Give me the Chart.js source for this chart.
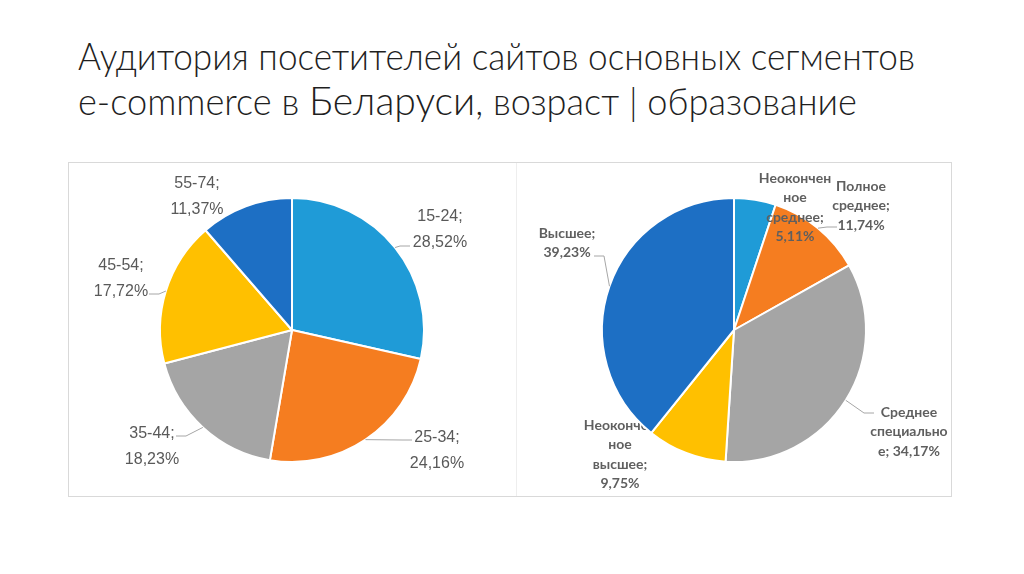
<!DOCTYPE html>
<html>
<head>
<meta charset="utf-8">
<script src="https://cdn.jsdelivr.net/npm/chart.js@4.4.1/dist/chart.umd.min.js"></script>
<style>
  html, body { margin: 0; padding: 0; background: #ffffff; }
  body { width: 1024px; height: 574px; position: relative; overflow: hidden; }
  .title-line {
    position: absolute; left: 78px; white-space: nowrap;
    font-family: Lato, "Open Sans", "Noto Sans", sans-serif; font-weight: 300;
    font-size: 37px; line-height: 45px; color: #1f1f1f;
    transform-origin: 0 0;
  }
  .title-line .big { font-size: 40px; }
  #box { position: absolute; left: 68px; top: 162px; width: 882px; height: 333px; border: 1px solid #d9d9d9; }
  #divider { position: absolute; left: 516px; top: 163px; width: 1px; height: 333px; background: #eeeeee; }
  canvas { position: absolute; }
</style>
</head>
<body>
<div class="title-line" id="t1" style="top:33px">Аудитория посетителей сайтов основных сегментов</div>
<div class="title-line" id="t2" style="top:78px">e-commerce в <span class="big">Беларуси</span>, возраст | образование</div>
<div id="box"></div>
<div id="divider"></div>
<canvas id="ageChart" width="448" height="334" style="left:68px;top:163px;width:448px;height:334px"></canvas>
<canvas id="eduChart" width="436" height="334" style="left:516px;top:163px;width:436px;height:334px"></canvas>
<script>
// ---- data ----
const ageCategories = ['15-24', '25-34', '35-44', '45-54', '55-74'];
const ageValues = [28.52, 24.16, 18.23, 17.72, 11.37];

const eduCategories = ['Неоконченное среднее', 'Полное среднее', 'Среднее специальное', 'Неоконченное высшее', 'Высшее'];
const eduValues = [5.11, 11.74, 34.17, 9.75, 39.23];
// wrapped label text as shown in the chart; {v} is replaced by the value
const eduLabelText = [
  ['Неокончен', 'ное', 'среднее;', '{v}'],
  ['Полное', 'среднее;', '{v}'],
  ['Среднее', 'специально', 'е; {v}'],
  ['Неокончен', 'ное', 'высшее;', '{v}'],
  ['Высшее;', '{v}']
];

const sliceColors = ['#1f9bd7', '#f57d20', '#a5a5a5', '#ffc000', '#1d6fc4'];

// fit title lines to the reference widths
function fitLine(id, w) {
  const el = document.getElementById(id);
  el.style.transform = 'none';
  const cw = el.getBoundingClientRect().width;
  if (cw > 0) el.style.transform = 'scaleX(' + (w / cw) + ')';
}

const fmt = v => v.toFixed(2).replace('.', ',') + '%';

const pieLabels = {
  id: 'pieLabels',
  beforeDatasetsDraw(chart, args, opts) { draw(chart, opts, true); },
  afterDatasetsDraw(chart, args, opts) { draw(chart, opts, false); }
};
function draw(chart, opts, behindPass) {
  const ctx = chart.ctx;
  const meta = chart.getDatasetMeta(0);
  meta.data.forEach((arc, i) => {
    const it = opts.items[i];
    if (!it || (!!it.behind) !== behindPass) return;
    const p = arc.getProps(['x', 'y', 'startAngle', 'endAngle', 'outerRadius'], true);
    const mid = (p.startAngle + p.endAngle) / 2;
    const lines = opts.lines(i);
    ctx.save();
    if (it.ax !== undefined) {
      const ex = p.x + Math.cos(mid) * p.outerRadius;
      const ey = p.y + Math.sin(mid) * p.outerRadius;
      const axp = p.x + it.ax, ayp = p.y + it.ay;
      const kx = axp + (it.ax > 0 ? -10 : 10);
      ctx.strokeStyle = opts.lineColor;
      ctx.lineWidth = 1;
      ctx.beginPath();
      ctx.moveTo(ex, ey);
      ctx.lineTo(kx, ayp);
      ctx.lineTo(axp, ayp);
      ctx.stroke();
    }
    ctx.fillStyle = opts.color;
    ctx.font = opts.font;
    ctx.textAlign = 'center';
    ctx.textBaseline = 'middle';
    lines.forEach((ln, k) => {
      ctx.fillText(ln, p.x + it.dx, p.y + it.dy + k * opts.lineHeight);
    });
    ctx.restore();
  });
}

function makePie(id, labels, values, labelOpts) {
  return new Chart(document.getElementById(id), {
    type: 'pie',
    data: {
      labels: labels,
      datasets: [{
        data: values,
        backgroundColor: sliceColors,
        borderColor: '#ffffff',
        borderWidth: 2,
        radius: 132
      }]
    },
    options: {
      responsive: false,
      animation: false,
      layout: { padding: 0 },
      plugins: {
        legend: { display: false },
        tooltip: { enabled: false },
        pieLabels: labelOpts
      }
    },
    plugins: [pieLabels]
  });
}

makePie('ageChart', ageCategories, ageValues, {
  font: '16px "Liberation Sans", Arial, sans-serif',
  color: '#595959',
  lineColor: '#a6a6a6',
  lineHeight: 26,
  lines: i => [ageCategories[i] + ';', fmt(ageValues[i])],
  items: [
    { dx: 148, dy: -113, ax: 118, ay: -84 },
    { dx: 145, dy: 108, ax: 120, ay: 110 },
    { dx: -140, dy: 104, ax: -116, ay: 106 },
    { dx: -171, dy: -64, ax: -143, ay: -36 },
    { dx: -95, dy: -146 }
  ]
});

makePie('eduChart', eduCategories, eduValues, {
  font: 'bold 14px Lato, "Open Sans", sans-serif',
  color: '#5f5f5f',
  lineColor: '#a6a6a6',
  lineHeight: 19.5,
  lines: i => eduLabelText[i].map(s => s.replace('{v}', fmt(eduValues[i]))),
  items: [
    { dx: 61, dy: -152 },
    { dx: 127, dy: -144, ax: 103, ay: -103 },
    { dx: 175, dy: 82, ax: 140, ay: 83 },
    { dx: -114, dy: 95, behind: true },
    { dx: -167, dy: -97, ax: -140, ay: -74 }
  ]
});

fitLine('t1', 837); fitLine('t2', 779);
if (document.fonts) document.fonts.ready.then(() => { fitLine('t1', 837); fitLine('t2', 779); });
</script>
</body>
</html>
